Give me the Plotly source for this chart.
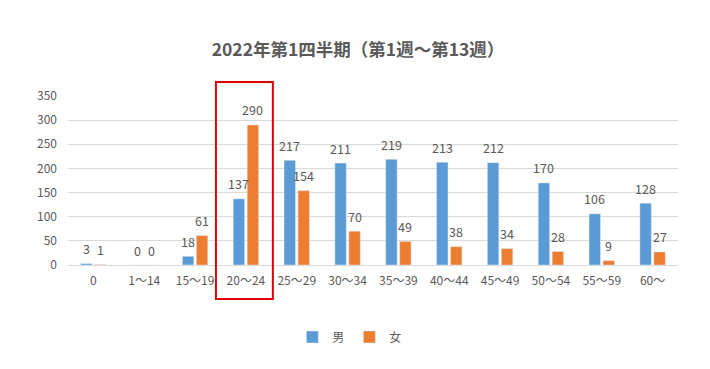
import plotly.graph_objects as go

categories = ["0", "1～14", "15～19", "20～24", "25～29", "30～34", "35～39",
              "40～44", "45～49", "50～54", "55～59", "60～"]
male = [3, 0, 18, 137, 217, 211, 219, 213, 212, 170, 106, 128]
female = [1, 0, 61, 290, 154, 70, 49, 38, 34, 28, 9, 27]
y_ticks = [0, 50, 100, 150, 200, 250, 300, 350]
title_text = "2022年第1四半期（第1週～第13週）"
highlight = "20～24"

FONT = "Noto Sans CJK JP"
GRAY = "#595959"
BLUE = "#5B9BD5"
ORANGE = "#ED7D31"

# the page body adds an 8px offset; compensate
OFF = 8
W, H = 710 - OFF, 369 - OFF

fig = go.Figure()
fig.add_trace(go.Bar(x=categories, y=male, name="男", marker_color=BLUE))
fig.add_trace(go.Bar(x=categories, y=female, name="女", marker_color=ORANGE))

annotations = []
for series, shift in ((male, -7), (female, 7)):
    for c, v in zip(categories, series):
        annotations.append(dict(x=c, y=v, xref="x", yref="y", text=str(v),
                                showarrow=False, xshift=shift, yshift=15,
                                font=dict(family=FONT, size=12.5, color=GRAY)))

hi = categories.index(highlight)
fig.update_layout(
    width=W, height=H,
    margin=dict(l=68 - OFF, r=32, t=96 - OFF, b=104),
    paper_bgcolor="white", plot_bgcolor="white",
    barmode="group", bargap=0.45, bargroupgap=0.18,
    title=dict(text=f"<b>{title_text}</b>", x=(355 - OFF + 3) / W, xanchor="center",
               y=1 - (50 - OFF) / H, yanchor="middle",
               font=dict(family=FONT, size=17.5, color=GRAY)),
    font=dict(family=FONT, size=12, color=GRAY),
    xaxis=dict(showgrid=False, showline=True, linecolor="#D9D9D9", linewidth=1,
               ticks="", ticklabelstandoff=5,
               tickfont=dict(family=FONT, size=12, color=GRAY)),
    yaxis=dict(range=[0, 350], tickvals=y_ticks, showgrid=True,
               gridcolor="#D9D9D9", gridwidth=1, zeroline=False,
               ticks="", ticklabelstandoff=10,
               tickfont=dict(family=FONT, size=12, color=GRAY)),
    legend=dict(orientation="h", x=0.462, xanchor="center", y=-0.426,
                yanchor="middle", font=dict(family=FONT, size=12, color=GRAY),
                itemwidth=30, tracegroupgap=0),
    annotations=annotations,
    shapes=[dict(type="rect", xref="x", yref="paper",
                 x0=hi - 0.59, x1=hi + 0.53, y0=-0.201, y1=1.083,
                 line=dict(color="#E00000", width=2), fillcolor="rgba(0,0,0,0)")],
    showlegend=True,
)

fig.write_html("out.html")
